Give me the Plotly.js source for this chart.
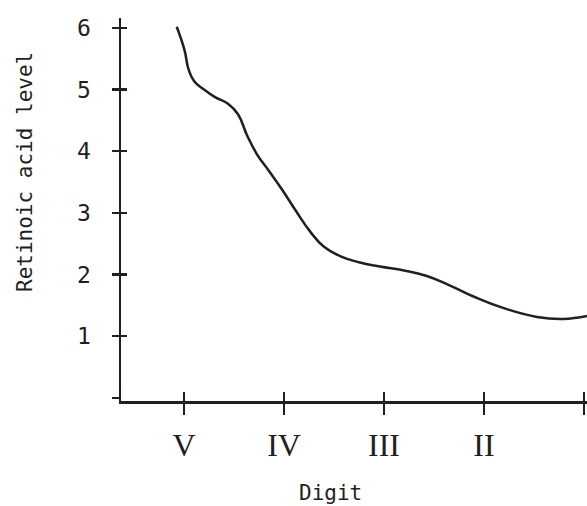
<!DOCTYPE html>
<html>
<head>
<meta charset="utf-8">
<script src="https://cdn.plot.ly/plotly-3.0.1.min.js"></script>
<style>html,body{margin:0;padding:0;background:#fff;}#chart{width:587px;height:506px;}</style>
</head>
<body>
<div id="chart"></div>
<script>
// Digit categories and their positions along the x axis
const digitLabels = ["V", "IV", "III", "II", "I"];
const digitPositions = [0, 1, 2, 3, 4];
const yTickValues = [0, 1, 2, 3, 4, 5, 6];
const yTickLabels = ["", "1", "2", "3", "4", "5", "6"];

// Retinoic acid level curve
const curveX = [-0.073, 0.005, 0.045, 0.10, 0.20, 0.31, 0.44, 0.54, 0.63, 0.73, 0.85, 0.98, 1.12, 1.26, 1.40, 1.56, 1.75, 1.96, 2.20, 2.42, 2.65, 2.90, 3.19, 3.53, 3.79, 4.03];
const curveY = [6.018, 5.640, 5.330, 5.140, 5.000, 4.878, 4.770, 4.600, 4.260, 3.950, 3.680, 3.380, 3.030, 2.700, 2.450, 2.300, 2.200, 2.130, 2.065, 1.980, 1.830, 1.640, 1.459, 1.313, 1.280, 1.329];

const ink = "#231f20";
const font = "DejaVu Sans Mono";
const xRange = [-0.63, 4.03];
const yRange = [-0.05, 6.16];

const traces = [
  {x: curveX, y: curveY, type: "scatter", mode: "lines",
   line: {color: ink, width: 2.5, shape: "spline", smoothing: 1.3},
   hoverinfo: "skip", showlegend: false},
  {x: [], y: [], xaxis: "x2", yaxis: "y2", type: "scatter", showlegend: false}
];

const layout = {
  width: 587, height: 506,
  margin: {l: 121, r: 0, t: 18, b: 105},
  paper_bgcolor: "#fff", plot_bgcolor: "#fff",
  showlegend: false,
  font: {family: font, size: 20, color: ink},
  xaxis: {
    range: xRange, tickmode: "array", tickvals: digitPositions, ticktext: digitLabels,
    ticks: "outside", ticklen: 11, tickwidth: 2.5, tickcolor: ink,
    showline: true, linewidth: 2.5, linecolor: ink, showgrid: false, zeroline: false,
    tickfont: {family: "Liberation Serif", size: 32, color: ink},
    ticklabelstandoff: 3, fixedrange: true
  },
  yaxis: {
    range: yRange, tickmode: "array", tickvals: yTickValues, ticktext: yTickLabels,
    ticks: "outside", ticklen: 7, tickwidth: 2.5, tickcolor: ink,
    showline: true, linewidth: 2.5, linecolor: ink, showgrid: false, zeroline: false,
    tickfont: {family: font, size: 23, color: ink},
    ticklabelstandoff: 16, fixedrange: true
  },
  xaxis2: {
    overlaying: "x", anchor: "y2", side: "bottom", range: xRange,
    tickmode: "array", tickvals: digitPositions, ticks: "inside", ticklen: 9, tickwidth: 2.5, tickcolor: ink,
    showticklabels: false, showline: false, showgrid: false, zeroline: false, fixedrange: true
  },
  yaxis2: {
    overlaying: "y", anchor: "x2", side: "left", range: yRange,
    tickmode: "array", tickvals: [1, 2, 3, 4, 5, 6], ticks: "inside", ticklen: 6, tickwidth: 2.5, tickcolor: ink,
    showticklabels: false, showline: false, showgrid: false, zeroline: false, fixedrange: true
  },
  annotations: [
    {text: "Retinoic acid level", xref: "paper", yref: "paper", x: -121/466, y: (401-172)/383,
     xanchor: "center", yanchor: "middle", textangle: -90, showarrow: false,
     font: {family: font, size: 21, color: ink}, xshift: 25},
    {text: "Digit", xref: "paper", yref: "paper", x: (330-121)/466, y: -(493-401)/383,
     xanchor: "center", yanchor: "middle", showarrow: false,
     font: {family: font, size: 21, color: ink}}
  ]
};

Plotly.newPlot("chart", traces, layout, {displayModeBar: false, staticPlot: true});
</script>
</body>
</html>
